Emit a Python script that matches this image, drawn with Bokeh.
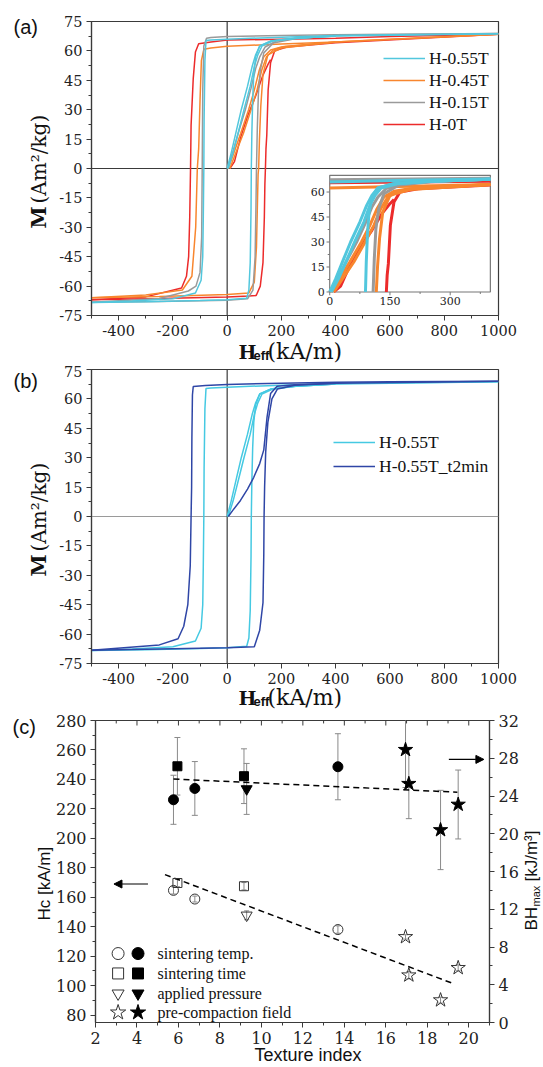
import numpy as np
from bokeh.plotting import figure
from bokeh.models import (Range1d, LinearAxis, Legend, LegendItem, Span,
                          Arrow, NormalHead, FixedTicker, PrintfTickFormatter)
from bokeh.embed import file_html
from bokeh.resources import INLINE
from bokeh.core.properties import value

# ---------------- Panel (a)/(b): hysteresis loops (H in kA/m, M in Am2/kg)
# H-0.55T
c55_desc_h = [1000, 600, 400, 200, 0, -60, -78, -82, -85, -86, -88, -90, -96, -117, -200, -350, -500]
c55_desc_m = [68.7, 68.2, 67.8, 67.0, 66.0, 65.6, 65.3, 55, 25, 0, -25, -45, -57, -63.5, -66.5, -67.6, -68.4]
c55_asc_h = [-500, -300, -100, 0, 72, 80, 85, 88, 89, 91, 94, 98, 105, 120, 160, 250, 400, 1000]
c55_asc_m = [-68.4, -68.0, -67.4, -67.0, -66.2, -62, -48, -20, 0, 18, 35, 48, 57, 62.5, 65, 66.5, 67.6, 68.7]
c55_ini1_h = [0, 15, 35, 52, 75, 92, 105, 120, 160, 250, 400]
c55_ini1_m = [0, 8, 20, 30, 42, 52, 58, 62.5, 65, 66.5, 67.6]
c55_ini2_h = [4, 22, 44, 62, 85, 100, 113, 128, 168, 255, 400]
c55_ini2_m = [0, 8, 20, 30, 42, 52, 58, 62.4, 65, 66.5, 67.6]

# H-0.45T
c45_desc_h = [1000, 600, 400, 200, 0, -60, -86, -95, -100, -105, -110, -116, -130, -165, -300, -500]
c45_desc_m = [68.5, 66.0, 64.5, 63.5, 62.4, 61.5, 60.8, 55, 35, 10, 0, -30, -55, -62, -64.5, -66]
c45_asc_h = [-500, -250, 0, 80, 100, 108, 112, 114, 116, 119, 124, 132, 150, 200, 400, 1000]
c45_asc_m = [-66, -65.3, -64.3, -63.5, -58, -40, -15, -3, 0, 15, 32, 48, 58, 61.5, 64.5, 68.5]
c45_ini1_h = [4, 25, 50, 79, 100, 118, 135, 160, 200, 400]
c45_ini1_m = [0, 8, 18, 30, 40, 50, 57, 60.5, 62, 64.5]
c45_ini2_h = [10, 32, 60, 88, 110, 127, 145, 170, 210, 400]
c45_ini2_m = [0, 8, 18, 30, 40, 50, 57, 60.5, 62.2, 64.5]

# H-0.15T
c15_desc_h = [1000, 600, 400, 200, 0, -60, -76, -86, -90, -92, -94, -100, -115, -143, -250, -500]
c15_desc_m = [68.9, 68.5, 68.2, 67.8, 67.3, 66.8, 66.5, 62.5, 40, 0, -35, -53, -60, -62.5, -66.3, -68.2]
c15_asc_h = [-500, -250, 0, 75, 95, 103, 106, 108, 111, 115, 122, 135, 170, 250, 400, 1000]
c15_asc_m = [-68.2, -67.8, -67.2, -66.5, -62, -45, -20, 0, 20, 38, 50, 59, 64, 66.2, 67.8, 68.9]
c15_ini_h = [0, 20, 45, 67, 88, 105, 120, 140, 180, 260, 400]
c15_ini_m = [0, 8, 20, 30, 41, 51, 57, 62, 65, 66.4, 67.8]

# H-0T
c0_desc_h = [1000, 600, 400, 200, 0, -60, -105, -117, -125, -133, -135, -138, -142, -150, -168, -300, -500]
c0_desc_m = [68.5, 67.3, 66.5, 66.0, 65.5, 64.5, 63.6, 59.4, 46, 22, 0, -25, -45, -55, -61, -65.5, -67]
c0_asc_h = [-500, -250, 0, 80, 107, 122, 132, 137, 139, 141, 143, 146, 151, 160, 175, 220, 400, 1000]
c0_asc_m = [-67, -66.3, -65.5, -65, -64.8, -60, -48, -25, -8, 0, 10, 17, 40, 54, 60, 62, 64.2, 68.5]
c0_ini_h = [10, 27, 50, 76, 105, 130, 150, 160]
c0_ini_m = [0, 3.5, 16, 27, 37, 47, 53, 55.5]

# H-0.55T_t2min
t2_desc_h = [1000, 600, 400, 200, 0, -80, -125, -128, -130, -131, -133, -136, -145, -160, -181, -250, -500]
t2_desc_m = [69, 68.8, 68.5, 68.0, 67.4, 66.8, 66.3, 62, 40, 15, 0, -25, -45, -56, -62.4, -65.5, -68.2]
t2_asc_h = [-500, -250, 0, 100, 120, 132, 135, 136, 138, 142, 150, 165, 185, 250, 400, 1000]
t2_asc_m = [-68.2, -67.6, -67, -66.5, -58, -44, -19, 0, 15, 33, 48, 60, 65, 67, 68, 69]
t2_ini_h = [4, 20, 49, 75, 98, 120, 135, 147, 160, 184, 250, 400]
t2_ini_m = [0, 3, 8.2, 14, 20, 27, 34, 50.7, 62.7, 66.5, 67.2, 68]

loop_x_ticks = [-400, -200, 0, 200, 400, 600, 800, 1000]
loop_x_minor = [-500, -300, -100, 100, 300, 500, 700, 900]
loop_y_ticks = [-75, -60, -45, -30, -15, 0, 15, 30, 45, 60, 75]
loop_y_minor = [-67.5, -52.5, -37.5, -22.5, -7.5, 7.5, 22.5, 37.5, 52.5, 67.5]
inset_x_ticks = [0, 150, 300]
inset_x_minor = [75, 225, 375]
inset_y_ticks = [0, 15, 30, 45, 60]
inset_y_minor = [7.5, 22.5, 37.5, 52.5]
INSET_H = (0, 400)
INSET_M = (0, 70)

# ---------------- Panel (c)
temp_x = [5.76, 6.79, 13.69]
temp_hc = [164.7, 158.8, 138.1]
temp_hc_err = [2.5, 2.0, 2.5]
temp_bh = [23.6, 24.8, 27.1]
temp_bh_err = [2.6, 2.85, 3.5]

time_x = [5.95, 9.16]
time_hc = [169.7, 167.5]
time_hc_err = [2.5, 2.5]
time_bh = [27.15, 26.1]
time_bh_err = [3.05, 2.9]

press_x = [9.29]
press_hc = [147.8]
press_hc_err = [3.0]
press_bh = [24.75]
press_bh_err = [2.7]

field_x = [16.95, 17.11, 18.64, 19.49]
field_hc = [133.1, 107.1, 90.2, 112.1]
field_hc_err = [1.5, 2.5, 2.0, 2.0]
field_bh = [28.9, 25.3, 20.4, 23.1]
field_bh_err = [4.0, 3.7, 4.2, 3.65]

hc_fit_x = [5.35, 19.16]
hc_fit_y = [175.4, 101.9]
bh_fit_x = [5.76, 19.45]
bh_fit_y = [25.8, 24.4]

leg_labels = ["sintering temp.", "sintering time", "applied pressure", "pre-compaction field"]
leg_markers = ["circle", "square", "inverted_triangle", "star"]
leg_sizes = [12, 11, 12, 16]

c_x_ticks = [2, 4, 6, 8, 10, 12, 14, 16, 18, 20]
c_x_minor = [3, 5, 7, 9, 11, 13, 15, 17, 19, 21]
c_y_ticks = [80, 100, 120, 140, 160, 180, 200, 220, 240, 260, 280]
c_y_minor = [90, 110, 130, 150, 170, 190, 210, 230, 250, 270]
c_r_ticks = [0, 4, 8, 12, 16, 20, 24, 28, 32]
c_r_minor = [2, 6, 10, 14, 18, 22, 26, 30]

CYAN = "#52c7dd"
ORANGE = "#f8862e"
GRAY = "#9a9a9a"
RED = "#ec2b2b"
BLUE = "#2f46a6"
CYAN_B = "#45c9e2"

SERIF = "DejaVu Serif"
AXC = "#3a3a3a"
TXT = "#111111"


def style_axis(ax, ticks, minor, size="14.5px"):
    ax.ticker = FixedTicker(ticks=ticks, minor_ticks=minor)
    ax.formatter = PrintfTickFormatter(format="%d")
    ax.major_label_text_font = SERIF
    ax.major_label_text_font_size = size
    ax.major_label_text_color = "#222222"
    ax.axis_line_color = AXC
    ax.axis_line_width = 1.2
    ax.major_tick_line_color = AXC
    ax.minor_tick_line_color = AXC
    ax.major_tick_out = 5
    ax.major_tick_in = 0
    ax.minor_tick_out = 3
    ax.minor_tick_in = 0
    ax.major_label_standoff = 4


def txt(p, x, y, s, xo, yo, font, size, style="normal", angle=0.0, align="left"):
    # free text placed relative to a frame corner (data point) with pixel offsets
    p.text(x=[x], y=[y], text=[s], x_offset=xo, y_offset=yo, angle=angle,
           text_font=value(font), text_font_size=size, text_font_style=style,
           text_align=align, text_baseline="middle", text_color=TXT, level="overlay")


def loop_figure(height, top, bottom, hline_color):
    p = figure(width=543, height=height, x_range=Range1d(-500, 1000), y_range=Range1d(-75, 75),
               output_backend="svg", toolbar_location=None,
               min_border_left=91, min_border_right=45, min_border_top=top, min_border_bottom=bottom)
    p.grid.visible = False
    p.outline_line_color = AXC
    p.outline_line_width = 1.2
    style_axis(p.xaxis[0], loop_x_ticks, loop_x_minor)
    style_axis(p.yaxis[0], loop_y_ticks, loop_y_minor)
    p.add_layout(Span(location=0, dimension="width", line_color=hline_color, line_width=1.2, level="underlay"))
    p.add_layout(Span(location=0, dimension="height", line_color=AXC, line_width=1.2, level="underlay"))
    return p


def loop_titles(p, tag, tag_dy, title_dy):
    x0, y0 = -499.99, -74.99   # lower-left frame corner
    y1 = 74.99                 # top
    txt(p, x0, y1, tag, -78, tag_dy, "Liberation Sans", "20px")
    txt(p, x0, y0, "M", -53, -87, SERIF, "20px", style="bold", angle=np.pi / 2)
    txt(p, x0, y0, "(Am²/kg)", -53, -112, SERIF, "20px", angle=np.pi / 2)
    txt(p, x0, y0, "H", 147, title_dy + 1, SERIF, "19px", style="bold")
    txt(p, x0, y0, "eff", 162, title_dy + 4, "Liberation Sans", "13px", style="bold")
    txt(p, x0, y0, "(kA/m)", 176, title_dy, SERIF, "22px")


def make_legend(p, items, x, y, row):
    leg = Legend(items=[LegendItem(label=l, renderers=[r]) for l, r in items], location=(x, y),
                 glyph_width=42, glyph_height=row, label_height=row, spacing=0, padding=0, margin=0,
                 label_standoff=4, border_line_color=None, background_fill_alpha=0,
                 label_text_font="Liberation Serif", label_text_font_size="17.5px",
                 label_text_color=TXT)
    p.add_layout(leg)


def in_inset(h, m):
    hs, ms = [], []
    for a, b in zip(h, m):
        if INSET_H[0] <= a <= INSET_H[1] and INSET_M[0] <= b <= INSET_M[1]:
            hs.append(a)
            ms.append(b)
    return hs, ms


# ================= Panel (a)   canvas 0..365, frame 21..315
pa = loop_figure(365, 21, 50, AXC)
series_a = [
    ("H-0.55T", CYAN, [(c55_desc_h, c55_desc_m), (c55_asc_h, c55_asc_m), (c55_ini1_h, c55_ini1_m), (c55_ini2_h, c55_ini2_m)]),
    ("H-0.45T", ORANGE, [(c45_desc_h, c45_desc_m), (c45_asc_h, c45_asc_m), (c45_ini1_h, c45_ini1_m), (c45_ini2_h, c45_ini2_m)]),
    ("H-0.15T", GRAY, [(c15_desc_h, c15_desc_m), (c15_asc_h, c15_asc_m), (c15_ini_h, c15_ini_m)]),
    ("H-0T", RED, [(c0_desc_h, c0_desc_m), (c0_asc_h, c0_asc_m), (c0_ini_h, c0_ini_m)]),
]
draw_order = [3, 1, 2, 0]
leg_items = {}
for i in draw_order:
    name, col, branches = series_a[i]
    rs = [pa.line(h, m, line_color=col, line_width=1.5) for h, m in branches]
    leg_items[name] = rs[0]
make_legend(pa, [(s[0], leg_items[s[0]]) for s in series_a], 292, 180, 22)

# inset (sub-coordinates of the main frame)
ins = pa.subplot(x_source=Range1d(*INSET_H), y_source=Range1d(*INSET_M),
                 x_target=Range1d(378, 970), y_target=Range1d(-63, -3.5))
ins.quad(left=[INSET_H[0]], right=[INSET_H[1]], bottom=[INSET_M[0]], top=[INSET_M[1]],
         fill_color="white", line_color="#777777", line_width=1.2)
for i in draw_order:
    name, col, branches = series_a[i]
    for h, m in branches:
        hh, mm = in_inset(h, m)
        ins.line(hh, mm, line_color=col, line_width=3)
ins.segment(x0=inset_x_ticks, y0=[0] * 3, x1=inset_x_ticks, y1=[-2.0] * 3, line_color="#777777")
ins.segment(x0=inset_x_minor, y0=[0] * 3, x1=inset_x_minor, y1=[-1.2] * 3, line_color="#777777")
ins.segment(x0=[0] * 5, y0=inset_y_ticks, x1=[-8] * 5, y1=inset_y_ticks, line_color="#777777")
ins.segment(x0=[0] * 4, y0=inset_y_minor, x1=[-5] * 4, y1=inset_y_minor, line_color="#777777")
ins.text(x=inset_x_ticks, y=[0] * 3, text=[str(t) for t in inset_x_ticks], text_align="center",
         text_baseline="top", y_offset=5, text_font=value(SERIF), text_font_size="11px", text_color="#222222")
ins.text(x=[0] * 5, y=inset_y_ticks, text=[str(t) for t in inset_y_ticks], text_align="right",
         text_baseline="middle", x_offset=-5, text_font=value(SERIF), text_font_size="11px", text_color="#222222")
loop_titles(pa, "(a)", 5, 36)

# ================= Panel (b)   canvas 365..710, frame 369..663
pb = loop_figure(345, 4, 47, "#9a9a9a")
series_b = [
    ("H-0.55T", CYAN_B, [(c55_desc_h, c55_desc_m), (c55_asc_h, c55_asc_m), (c55_ini1_h, c55_ini1_m), (c55_ini2_h, c55_ini2_m)]),
    ("H-0.55T_t2min", BLUE, [(t2_desc_h, t2_desc_m), (t2_asc_h, t2_asc_m), (t2_ini_h, t2_ini_m)]),
]
leg_b = []
for name, col, branches in series_b:
    rs = [pb.line(h, m, line_color=col, line_width=1.5) for h, m in branches]
    leg_b.append((name, rs[0]))
make_legend(pb, leg_b, 242, 185, 24)
loop_titles(pb, "(b)", 11, 34)

# ================= Panel (c)   canvas 710..1067, frame 720..1022
pc = figure(width=543, height=357, x_range=Range1d(2, 21), y_range=Range1d(75, 280),
            output_backend="svg", toolbar_location=None,
            min_border_left=95, min_border_right=54, min_border_top=10, min_border_bottom=45)
pc.extra_y_ranges = {"bh": Range1d(0, 32)}
pc.grid.visible = False
pc.outline_line_color = AXC
pc.outline_line_width = 1.2
style_axis(pc.xaxis[0], c_x_ticks, c_x_minor, "16px")
style_axis(pc.yaxis[0], c_y_ticks, c_y_minor, "16px")
rax = LinearAxis(y_range_name="bh")
style_axis(rax, c_r_ticks, c_r_minor, "16px")
pc.add_layout(rax, "right")
# inward ticks on the top edge
pc.segment(x0=c_x_ticks, y0=[280] * len(c_x_ticks), x1=c_x_ticks, y1=[276.6] * len(c_x_ticks), line_color=AXC)
pc.segment(x0=c_x_minor, y0=[280] * len(c_x_minor), x1=c_x_minor, y1=[278] * len(c_x_minor), line_color=AXC)

ERR = "#8a8a8a"
groups = [
    ("circle", 10, temp_x, temp_hc, temp_hc_err, temp_bh, temp_bh_err),
    ("square", 9, time_x, time_hc, time_hc_err, time_bh, time_bh_err),
    ("inverted_triangle", 11, press_x, press_hc, press_hc_err, press_bh, press_bh_err),
    ("star", 15, field_x, field_hc, field_hc_err, field_bh, field_bh_err),
]
for mk, sz, x, hc, hce, bh, bhe in groups:
    hc, hce, bh, bhe = map(np.asarray, (hc, hce, bh, bhe))
    pc.segment(x0=x, y0=bh - bhe, x1=x, y1=bh + bhe, y_range_name="bh", line_color=ERR, line_width=1)
    pc.scatter(x=x + x, y=list(bh - bhe) + list(bh + bhe), y_range_name="bh", marker="dash", size=6,
               line_color=ERR, line_width=1)
    pc.segment(x0=x, y0=hc - hce, x1=x, y1=hc + hce, line_color=ERR, line_width=1)
    pc.scatter(x=x + x, y=list(hc - hce) + list(hc + hce), marker="dash", size=5, line_color=ERR, line_width=1)

pc.line(hc_fit_x, hc_fit_y, line_color="black", line_width=1.5, line_dash="6 4")
pc.line(bh_fit_x, bh_fit_y, y_range_name="bh", line_color="black", line_width=1.5, line_dash="6 4")

for mk, sz, x, hc, hce, bh, bhe in groups:
    pc.scatter(x=x, y=hc, marker=mk, size=sz, fill_color=None, line_color="#333333", line_width=1)
    pc.scatter(x=x, y=bh, y_range_name="bh", marker=mk, size=sz, fill_color="black", line_color="black")

# legend (hand drawn: open + filled marker per row)
leg_rows = [121.8, 108.3, 94.7, 81.8]
pc.scatter(x=[3.09] * 4, y=leg_rows, marker=leg_markers, size=leg_sizes, fill_color=None,
           line_color="#333333", line_width=1)
pc.scatter(x=[4.05] * 4, y=leg_rows, marker=leg_markers, size=leg_sizes, fill_color="black",
           line_color="black")
pc.text(x=[4.99] * 4, y=leg_rows, text=leg_labels, text_baseline="middle", text_align="left",
        text_font=value("Liberation Serif"), text_font_size="16px", text_color=TXT)

pc.add_layout(Arrow(x_start=4.53, y_start=169, x_end=2.89, y_end=169, line_width=1.2, line_color="black",
                    end=NormalHead(size=8, fill_color="black", line_color="black")))
pc.add_layout(Arrow(x_start=19.04, y_start=253.6, x_end=20.73, y_end=253.6, line_width=1.2, line_color="black",
                    end=NormalHead(size=8, fill_color="black", line_color="black")))

cx0, cy0, cx1, cy1 = 2.001, 75.01, 20.999, 279.99
txt(pc, cx0, cy1, "(c)", -83, 6, "Liberation Sans", "20px")
txt(pc, cx0, cy0, "Hc [kA/m]", -51, -102, "Liberation Sans", "17px", angle=np.pi / 2)
txt(pc, cx0, cy0, "Texture index", 159, 33, "Liberation Sans", "18px")
txt(pc, cx1, cy0, "BH", 42, -92, "Liberation Sans", "17px", angle=np.pi / 2)
txt(pc, cx1, cy0, "max", 47, -116, "Liberation Sans", "11px", angle=np.pi / 2)
txt(pc, cx1, cy0, "[kJ/m³]", 42, -141, "Liberation Sans", "17px", angle=np.pi / 2)

open("out.html", "w").write(file_html([pa, pb, pc], INLINE))
